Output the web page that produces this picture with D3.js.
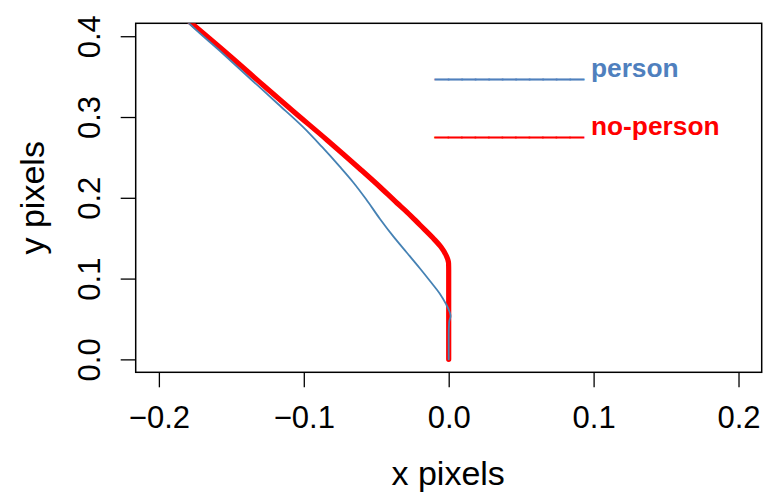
<!DOCTYPE html>
<html>
<head>
<meta charset="utf-8">
<script src="https://cdn.jsdelivr.net/npm/d3@7"></script>
<style>
  html, body { margin: 0; padding: 0; background: #fff; }
  svg { display: block; font-family: "Liberation Sans", Arial, Helvetica, sans-serif; }
</style>
</head>
<body>
<svg id="chart" width="768" height="502"></svg>
<script>
// Mean displacement trajectories (x vs y, in pixels)
const personX = [0, 0, 0.0003, 0.0013, 0.0004, -0.0019, -0.0060, -0.0129, -0.0198, -0.0290, -0.0385, -0.0474, -0.0571, -0.0661, -0.0750, -0.0874, -0.1006, -0.1178, -0.1371, -0.1578, -0.1792, -0.1835];
const personY = [0, 0.0302, 0.0463, 0.0537, 0.0599, 0.0686, 0.0810, 0.0970, 0.1125, 0.1323, 0.1528, 0.1738, 0.1985, 0.2196, 0.2382, 0.2629, 0.2877, 0.3161, 0.3477, 0.3817, 0.4160, 0.4238];

const noPersonX = [0, 0, 0, 0, -0.0001, -0.0019, -0.0053, -0.0108, -0.0198, -0.0288, -0.0357, -0.0474, -0.0612, -0.0840, -0.1075, -0.1282, -0.1510, -0.1775, -0.1827];
const noPersonY = [0, 0.0488, 0.0859, 0.1107, 0.1193, 0.1292, 0.1391, 0.1502, 0.1663, 0.1824, 0.1936, 0.2134, 0.2357, 0.2716, 0.3075, 0.3397, 0.3756, 0.4160, 0.4238];

const xTicks = [-0.2, -0.1, 0.0, 0.1, 0.2];
const yTicks = [0.0, 0.1, 0.2, 0.3, 0.4];

const seriesNames = ["person", "no-person"];
const seriesColors = ["#4f80be", "#ff0000"];

const svg = d3.select("#chart");
const plotL = 135.7, plotR = 761.7, plotT = 23.3, plotB = 372.3;

// R-style 4% padding around [-0.2, 0.2] and [0, 0.4]
const x = d3.scaleLinear().domain([-0.216, 0.216]).range([plotL, plotR]);
const y = d3.scaleLinear().domain([-0.016, 0.416]).range([plotB, plotT]);

const fmt = d => d3.format(".1f")(d).replace("-", "\u2212");

svg.append("clipPath").attr("id", "plotClip")
  .append("rect").attr("x", plotL).attr("y", plotT)
  .attr("width", plotR - plotL).attr("height", plotB - plotT);

// x axis
const xAxis = d3.axisBottom(x).tickValues(xTicks).tickSize(15).tickPadding(10).tickFormat(fmt);
const gx = svg.append("g").attr("transform", `translate(0,${plotB})`).call(xAxis);
gx.select(".domain").remove();
gx.selectAll(".tick line").attr("stroke", "#000").attr("stroke-width", 1.3);
gx.selectAll(".tick text").attr("font-size", 31).attr("fill", "#000")
  .attr("dy", null).attr("y", 55.4);

// y axis (labels parallel to the axis)
const yAxis = d3.axisLeft(y).tickValues(yTicks).tickSize(15).tickFormat(fmt);
const gy = svg.append("g").attr("transform", `translate(${plotL},0)`).call(yAxis);
gy.select(".domain").remove();
gy.selectAll(".tick line").attr("stroke", "#000").attr("stroke-width", 1.3);
gy.selectAll(".tick text").attr("font-size", 31).attr("fill", "#000")
  .attr("x", null).attr("dy", null).attr("text-anchor", "middle")
  .attr("transform", "translate(-36,0) rotate(-90)");

// plot frame
svg.append("rect").attr("x", plotL).attr("y", plotT)
  .attr("width", plotR - plotL).attr("height", plotB - plotT)
  .attr("fill", "none").attr("stroke", "#000").attr("stroke-width", 1.5);

// axis titles
svg.append("text").attr("x", (plotL + plotR) / 2 - 0.5).attr("y", 485)
  .attr("text-anchor", "middle").attr("font-size", 34).text("x pixels");
svg.append("text")
  .attr("transform", `translate(44,${(plotT + plotB) / 2}) rotate(-90)`)
  .attr("text-anchor", "middle").attr("font-size", 34).text("y pixels");

// trajectories (y increases monotonically along each path)
const line = d3.line().x(d => x(d[0])).y(d => y(d[1])).curve(d3.curveMonotoneY);
const plot = svg.append("g").attr("clip-path", "url(#plotClip)");

plot.append("path")
  .datum(noPersonX.map((v, i) => [v, noPersonY[i]]))
  .attr("d", line).attr("fill", "none")
  .attr("stroke", "#ff0000").attr("stroke-width", 5.2)
  .attr("stroke-linejoin", "round").attr("stroke-linecap", "round");

plot.append("path")
  .datum(personX.map((v, i) => [v, personY[i]]))
  .attr("d", line).attr("fill", "none")
  .attr("stroke", "#4682b4").attr("stroke-width", 1.8)
  .attr("stroke-linejoin", "round").attr("stroke-linecap", "round");

// legend written as text lines
const legendY = [76.7, 135];
seriesNames.forEach((name, i) => {
  const t = svg.append("text").attr("x", 435).attr("y", legendY[i])
    .attr("font-weight", "bold").attr("fill", seriesColors[i]);
  t.append("tspan").attr("font-size", 24.3)
    .attr("stroke", seriesColors[i]).attr("stroke-width", 0.9)
    .text("___________");
  t.append("tspan").attr("font-size", 26.3).text(" " + name);
});
</script>
</body>
</html>
